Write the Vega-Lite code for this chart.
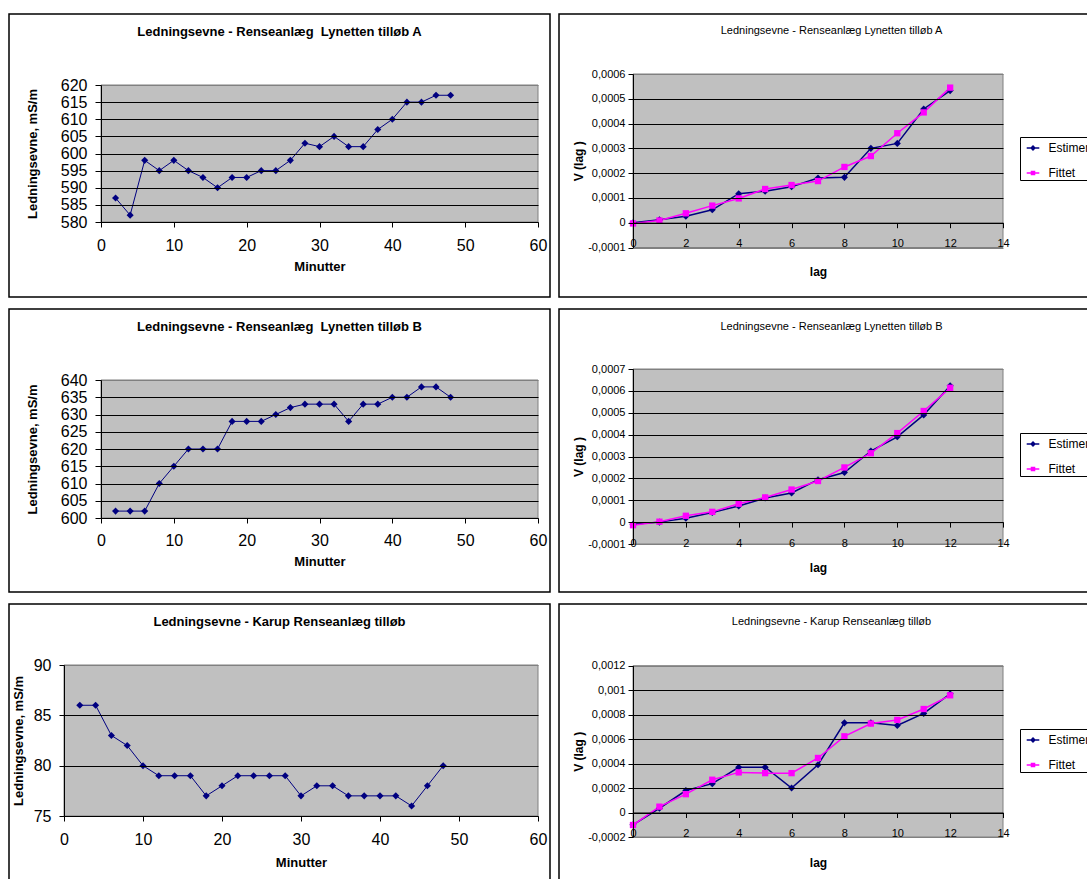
{
  "$schema": "https://vega.github.io/schema/vega-lite/v6.json",
  "padding": {"left": 8, "top": 13, "right": 0, "bottom": 0},
  "background": "white",
  "spacing": 10,
  "resolve": {"scale": {"color": "independent"}, "legend": {"color": "independent"}},
  "config": {
    "font": "Liberation Sans",
    "view": {"stroke": "#000000", "strokeWidth": 1.5},
    "axis": {"domainColor": "#000000", "tickColor": "#000000", "labelColor": "#000000", "titleColor": "#000000", "zindex": 1, "labelFlush": false, "labelOverlap": false, "domainWidth": 1, "tickWidth": 1, "gridWidth": 1},
    "title": {"anchor": "middle", "frame": "group", "color": "#000000"},
    "legend": {"orient": "none", "legendX": 461, "title": null, "strokeColor": "#000000", "fillColor": "#ffffff", "padding": 1,
      "labelFont": "Liberation Sans", "labelFontSize": 12, "labelColor": "#000000", "labelOffset": 5.5,
      "symbolType": "M-0.7,0H0.7", "symbolSize": 324, "symbolStrokeWidth": 1.5, "symbolOffset": 2, "rowPadding": 9}
  },
  "datasets": {
    "tillobA": [
      {"minut": 2, "ledningsevne": 587}, {"minut": 4, "ledningsevne": 582}, {"minut": 6, "ledningsevne": 598}, {"minut": 8, "ledningsevne": 595},
      {"minut": 10, "ledningsevne": 598}, {"minut": 12, "ledningsevne": 595}, {"minut": 14, "ledningsevne": 593}, {"minut": 16, "ledningsevne": 590},
      {"minut": 18, "ledningsevne": 593}, {"minut": 20, "ledningsevne": 593}, {"minut": 22, "ledningsevne": 595}, {"minut": 24, "ledningsevne": 595},
      {"minut": 26, "ledningsevne": 598}, {"minut": 28, "ledningsevne": 603}, {"minut": 30, "ledningsevne": 602}, {"minut": 32, "ledningsevne": 605},
      {"minut": 34, "ledningsevne": 602}, {"minut": 36, "ledningsevne": 602}, {"minut": 38, "ledningsevne": 607}, {"minut": 40, "ledningsevne": 610},
      {"minut": 42, "ledningsevne": 615}, {"minut": 44, "ledningsevne": 615}, {"minut": 46, "ledningsevne": 617}, {"minut": 48, "ledningsevne": 617}
    ],
    "tillobB": [
      {"minut": 2, "ledningsevne": 602}, {"minut": 4, "ledningsevne": 602}, {"minut": 6, "ledningsevne": 602}, {"minut": 8, "ledningsevne": 610},
      {"minut": 10, "ledningsevne": 615}, {"minut": 12, "ledningsevne": 620}, {"minut": 14, "ledningsevne": 620}, {"minut": 16, "ledningsevne": 620},
      {"minut": 18, "ledningsevne": 628}, {"minut": 20, "ledningsevne": 628}, {"minut": 22, "ledningsevne": 628}, {"minut": 24, "ledningsevne": 630},
      {"minut": 26, "ledningsevne": 632}, {"minut": 28, "ledningsevne": 633}, {"minut": 30, "ledningsevne": 633}, {"minut": 32, "ledningsevne": 633},
      {"minut": 34, "ledningsevne": 628}, {"minut": 36, "ledningsevne": 633}, {"minut": 38, "ledningsevne": 633}, {"minut": 40, "ledningsevne": 635},
      {"minut": 42, "ledningsevne": 635}, {"minut": 44, "ledningsevne": 638}, {"minut": 46, "ledningsevne": 638}, {"minut": 48, "ledningsevne": 635}
    ],
    "karup": [
      {"minut": 2, "ledningsevne": 86}, {"minut": 4, "ledningsevne": 86}, {"minut": 6, "ledningsevne": 83}, {"minut": 8, "ledningsevne": 82},
      {"minut": 10, "ledningsevne": 80}, {"minut": 12, "ledningsevne": 79}, {"minut": 14, "ledningsevne": 79}, {"minut": 16, "ledningsevne": 79},
      {"minut": 18, "ledningsevne": 77}, {"minut": 20, "ledningsevne": 78}, {"minut": 22, "ledningsevne": 79}, {"minut": 24, "ledningsevne": 79},
      {"minut": 26, "ledningsevne": 79}, {"minut": 28, "ledningsevne": 79}, {"minut": 30, "ledningsevne": 77}, {"minut": 32, "ledningsevne": 78},
      {"minut": 34, "ledningsevne": 78}, {"minut": 36, "ledningsevne": 77}, {"minut": 38, "ledningsevne": 77}, {"minut": 40, "ledningsevne": 77},
      {"minut": 42, "ledningsevne": 77}, {"minut": 44, "ledningsevne": 76}, {"minut": 46, "ledningsevne": 78}, {"minut": 48, "ledningsevne": 80}
    ],
    "variogramA": [
      {"lag": 0, "serie": "Estimeret", "V": 0}, {"lag": 1, "serie": "Estimeret", "V": 0.000012}, {"lag": 2, "serie": "Estimeret", "V": 0.000026},
      {"lag": 3, "serie": "Estimeret", "V": 0.000052}, {"lag": 4, "serie": "Estimeret", "V": 0.000117}, {"lag": 5, "serie": "Estimeret", "V": 0.000127},
      {"lag": 6, "serie": "Estimeret", "V": 0.000145}, {"lag": 7, "serie": "Estimeret", "V": 0.00018}, {"lag": 8, "serie": "Estimeret", "V": 0.000183},
      {"lag": 9, "serie": "Estimeret", "V": 0.0003}, {"lag": 10, "serie": "Estimeret", "V": 0.00032}, {"lag": 11, "serie": "Estimeret", "V": 0.000459},
      {"lag": 12, "serie": "Estimeret", "V": 0.000533},
      {"lag": 0, "serie": "Fittet", "V": -0.000003}, {"lag": 1, "serie": "Fittet", "V": 0.000009}, {"lag": 2, "serie": "Fittet", "V": 0.000038},
      {"lag": 3, "serie": "Fittet", "V": 0.000069}, {"lag": 4, "serie": "Fittet", "V": 0.000098}, {"lag": 5, "serie": "Fittet", "V": 0.000136},
      {"lag": 6, "serie": "Fittet", "V": 0.000152}, {"lag": 7, "serie": "Fittet", "V": 0.000168}, {"lag": 8, "serie": "Fittet", "V": 0.000225},
      {"lag": 9, "serie": "Fittet", "V": 0.000269}, {"lag": 10, "serie": "Fittet", "V": 0.000361}, {"lag": 11, "serie": "Fittet", "V": 0.000445},
      {"lag": 12, "serie": "Fittet", "V": 0.000545}
    ],
    "variogramB": [
      {"lag": 0, "serie": "Estimeret", "V": -0.00001}, {"lag": 1, "serie": "Estimeret", "V": 0}, {"lag": 2, "serie": "Estimeret", "V": 0.000018},
      {"lag": 3, "serie": "Estimeret", "V": 0.000044}, {"lag": 4, "serie": "Estimeret", "V": 0.000074}, {"lag": 5, "serie": "Estimeret", "V": 0.00011},
      {"lag": 6, "serie": "Estimeret", "V": 0.000133}, {"lag": 7, "serie": "Estimeret", "V": 0.000194}, {"lag": 8, "serie": "Estimeret", "V": 0.000227},
      {"lag": 9, "serie": "Estimeret", "V": 0.000325}, {"lag": 10, "serie": "Estimeret", "V": 0.00039}, {"lag": 11, "serie": "Estimeret", "V": 0.00049},
      {"lag": 12, "serie": "Estimeret", "V": 0.000623},
      {"lag": 0, "serie": "Fittet", "V": -0.000014}, {"lag": 1, "serie": "Fittet", "V": 0.000002}, {"lag": 2, "serie": "Fittet", "V": 0.000029},
      {"lag": 3, "serie": "Fittet", "V": 0.000047}, {"lag": 4, "serie": "Fittet", "V": 0.000084}, {"lag": 5, "serie": "Fittet", "V": 0.000113},
      {"lag": 6, "serie": "Fittet", "V": 0.000149}, {"lag": 7, "serie": "Fittet", "V": 0.000188}, {"lag": 8, "serie": "Fittet", "V": 0.00025},
      {"lag": 9, "serie": "Fittet", "V": 0.000315}, {"lag": 10, "serie": "Fittet", "V": 0.000407}, {"lag": 11, "serie": "Fittet", "V": 0.000508},
      {"lag": 12, "serie": "Fittet", "V": 0.000614}
    ],
    "variogramKarup": [
      {"lag": 0, "serie": "Estimeret", "V": -0.0001}, {"lag": 1, "serie": "Estimeret", "V": 0.000035}, {"lag": 2, "serie": "Estimeret", "V": 0.00018},
      {"lag": 3, "serie": "Estimeret", "V": 0.000236}, {"lag": 4, "serie": "Estimeret", "V": 0.00037}, {"lag": 5, "serie": "Estimeret", "V": 0.00037},
      {"lag": 6, "serie": "Estimeret", "V": 0.0002}, {"lag": 7, "serie": "Estimeret", "V": 0.00039}, {"lag": 8, "serie": "Estimeret", "V": 0.000733},
      {"lag": 9, "serie": "Estimeret", "V": 0.000733}, {"lag": 10, "serie": "Estimeret", "V": 0.000711}, {"lag": 11, "serie": "Estimeret", "V": 0.00081},
      {"lag": 12, "serie": "Estimeret", "V": 0.00097},
      {"lag": 0, "serie": "Fittet", "V": -0.000102}, {"lag": 1, "serie": "Fittet", "V": 0.000048}, {"lag": 2, "serie": "Fittet", "V": 0.00015},
      {"lag": 3, "serie": "Fittet", "V": 0.000268}, {"lag": 4, "serie": "Fittet", "V": 0.000328}, {"lag": 5, "serie": "Fittet", "V": 0.000322},
      {"lag": 6, "serie": "Fittet", "V": 0.000322}, {"lag": 7, "serie": "Fittet", "V": 0.000446}, {"lag": 8, "serie": "Fittet", "V": 0.000623},
      {"lag": 9, "serie": "Fittet", "V": 0.000727}, {"lag": 10, "serie": "Fittet", "V": 0.000757}, {"lag": 11, "serie": "Fittet", "V": 0.000846},
      {"lag": 12, "serie": "Fittet", "V": 0.000958}
    ]
  },
  "vconcat": [
    {
      "bounds": "flush",
      "spacing": 9,
      "resolve": {"scale": {"color": "independent"}, "legend": {"color": "independent"}},
      "hconcat": [
        {
          "width": 541, "height": 283,
          "title": {"text": "Ledningsevne - Renseanlæg\u00a0 Lynetten tilløb A", "fontSize": 13, "fontWeight": "bold", "offset": -25},
          "layer": [
            {
              "data": {"values": [{}]},
              "mark": {"type": "rect", "fill": "#c0c0c0", "stroke": "#808080", "strokeWidth": 1},
              "encoding": {
                "x": {"datum": 0, "type": "quantitative",
                  "scale": {"domain": [0, 60], "range": [92, 529], "nice": false, "zero": false},
                  "axis": {"orient": "bottom", "offset": -75, "zindex": 1, "tickCount": 20, "format": "d", "labelOverlap": false, "labelFlush": false, "values": [0, 10, 20, 30, 40, 50, 60], "tickSize": 5, "labelFontSize": 16, "labelPadding": 10,
                    "title": "Minutter", "titleFontSize": 13, "titleFontWeight": "bold", "titlePadding": 7, "grid": false}},
                "x2": {"datum": 60},
                "y": {"datum": 580, "type": "quantitative",
                  "scale": {"domain": [580, 620], "range": [208, 71], "nice": false, "zero": false},
                  "axis": {"orient": "left", "offset": -92, "zindex": 1, "tickCount": 20, "format": "d", "labelOverlap": false, "values": [580, 585, 590, 595, 600, 605, 610, 615, 620], "tickSize": 6, "labelPadding": 8, "labelFontSize": 16,
                    "title": "Ledningsevne, mS/m", "titleFontSize": 13, "titleFontWeight": "bold", "titlePadding": 21, "grid": true,
                    "gridColor": {"condition": {"test": "datum.value === 620", "value": "#808080"}, "value": "#000000"}}},
                "y2": {"datum": 620}
              }
            },
            {
              "data": {"name": "tillobA"},
              "mark": {"type": "line", "color": "#000080", "strokeWidth": 1},
              "encoding": {"x": {"field": "minut", "type": "quantitative"}, "y": {"field": "ledningsevne", "type": "quantitative"}}
            },
            {
              "data": {"name": "tillobA"},
              "mark": {"type": "point", "shape": "diamond", "filled": true, "color": "#000080", "size": 50, "opacity": 1},
              "encoding": {"x": {"field": "minut", "type": "quantitative"}, "y": {"field": "ledningsevne", "type": "quantitative"}}
            }
          ]
        },
        {
          "width": 545, "height": 283,
          "title": {"text": "Ledningsevne - Renseanlæg Lynetten tilløb A", "fontSize": 11, "fontWeight": "normal", "offset": -22},
          "layer": [
            {
              "data": {"values": [{}]},
              "mark": {"type": "rect", "fill": "#c0c0c0", "stroke": "#808080", "strokeWidth": 1},
              "encoding": {
                "x": {"datum": 0, "type": "quantitative",
                  "scale": {"domain": [0, 14], "range": [74, 444], "nice": false, "zero": false},
                  "axis": {"orient": "bottom", "offset": -74.3, "zindex": 1, "tickCount": 20, "format": "d", "labelOverlap": false, "labelFlush": false, "values": [0, 2, 4, 6, 8, 10, 12, 14], "tickSize": 5, "labelFontSize": 11, "labelPadding": 10,
                    "title": "lag", "titleFontSize": 12, "titleFontWeight": "bold", "titlePadding": 18, "grid": false}},
                "x2": {"datum": 14},
                "y": {"datum": -0.0001, "type": "quantitative",
                  "scale": {"domain": [-0.0001, 0.0006], "range": [233.5, 60], "nice": false, "zero": false},
                  "axis": {"orient": "left", "offset": -74, "zindex": 1, "tickCount": 20, "labelOverlap": false, "values": [-0.0001, 0, 0.0001, 0.0002, 0.0003, 0.0004, 0.0005, 0.0006], "tickSize": 5, "labelPadding": 3,
                    "labelFontSize": 11, "labelExpr": "replace(toString(datum.value), '.', ',')",
                    "title": "V (lag )", "titleFontSize": 12, "titleFontWeight": "bold", "titlePadding": 2, "grid": true,
                    "gridColor": {"condition": {"test": "datum.value === 0.0006 || datum.value === -0.0001", "value": "#808080"}, "value": "#000000"}}},
                "y2": {"datum": 0.0006}
              }
            },
            {
              "data": {"name": "variogramA"},
              "mark": {"type": "line", "strokeWidth": 1.5},
              "encoding": {
                "x": {"field": "lag", "type": "quantitative"},
                "y": {"field": "V", "type": "quantitative"},
                "color": {"field": "serie", "type": "nominal",
                  "scale": {"domain": ["Estimeret", "Fittet"], "range": ["#000080", "#ff00ff"]},
                  "legend": {"legendY": 123,
                    "encode": {"symbols": {"update": {
                      "shape": {"signal": "datum.value === 'Fittet' ? 'M-0.7,0H0.7M-0.17,-0.17H0.17V0.17H-0.17Z' : 'M-0.7,0H0.7M0,-0.21L0.21,0L0,0.21L-0.21,0Z'"},
                      "fill": {"signal": "datum.value === 'Fittet' ? '#ff00ff' : '#000080'"},
                      "stroke": {"signal": "datum.value === 'Fittet' ? '#ff00ff' : '#000080'"},
                      "fillOpacity": {"value": 1}, "strokeOpacity": {"value": 1}, "opacity": {"value": 1}}}}}}
              }
            },
            {
              "data": {"name": "variogramA"},
              "transform": [{"filter": "datum.serie === 'Estimeret'"}],
              "mark": {"type": "point", "shape": "diamond", "filled": true, "color": "#000080", "size": 50, "opacity": 1},
              "encoding": {"x": {"field": "lag", "type": "quantitative"}, "y": {"field": "V", "type": "quantitative"}}
            },
            {
              "data": {"name": "variogramA"},
              "transform": [{"filter": "datum.serie === 'Fittet'"}],
              "mark": {"type": "point", "shape": "square", "filled": true, "color": "#ff00ff", "size": 40, "opacity": 1},
              "encoding": {"x": {"field": "lag", "type": "quantitative"}, "y": {"field": "V", "type": "quantitative"}}
            }
          ]
        }
      ]
    },
    {
      "bounds": "flush",
      "spacing": 9,
      "resolve": {"scale": {"color": "independent"}, "legend": {"color": "independent"}},
      "hconcat": [
        {
          "width": 541, "height": 283,
          "title": {"text": "Ledningsevne - Renseanlæg\u00a0 Lynetten tilløb B", "fontSize": 13, "fontWeight": "bold", "offset": -25},
          "layer": [
            {
              "data": {"values": [{}]},
              "mark": {"type": "rect", "fill": "#c0c0c0", "stroke": "#808080", "strokeWidth": 1},
              "encoding": {
                "x": {"datum": 0, "type": "quantitative",
                  "scale": {"domain": [0, 60], "range": [92, 529], "nice": false, "zero": false},
                  "axis": {"orient": "bottom", "offset": -74, "zindex": 1, "tickCount": 20, "format": "d", "labelOverlap": false, "labelFlush": false, "values": [0, 10, 20, 30, 40, 50, 60], "tickSize": 5, "labelFontSize": 16, "labelPadding": 9,
                    "title": "Minutter", "titleFontSize": 13, "titleFontWeight": "bold", "titlePadding": 7, "grid": false}},
                "x2": {"datum": 60},
                "y": {"datum": 600, "type": "quantitative",
                  "scale": {"domain": [600, 640], "range": [209, 71], "nice": false, "zero": false},
                  "axis": {"orient": "left", "offset": -92, "zindex": 1, "tickCount": 20, "format": "d", "labelOverlap": false, "values": [600, 605, 610, 615, 620, 625, 630, 635, 640], "tickSize": 6, "labelPadding": 8, "labelFontSize": 16,
                    "title": "Ledningsevne, mS/m", "titleFontSize": 13, "titleFontWeight": "bold", "titlePadding": 21, "grid": true,
                    "gridColor": {"condition": {"test": "datum.value === 640", "value": "#808080"}, "value": "#000000"}}},
                "y2": {"datum": 640}
              }
            },
            {
              "data": {"name": "tillobB"},
              "mark": {"type": "line", "color": "#000080", "strokeWidth": 1},
              "encoding": {"x": {"field": "minut", "type": "quantitative"}, "y": {"field": "ledningsevne", "type": "quantitative"}}
            },
            {
              "data": {"name": "tillobB"},
              "mark": {"type": "point", "shape": "diamond", "filled": true, "color": "#000080", "size": 50, "opacity": 1},
              "encoding": {"x": {"field": "minut", "type": "quantitative"}, "y": {"field": "ledningsevne", "type": "quantitative"}}
            }
          ]
        },
        {
          "width": 545, "height": 283,
          "title": {"text": "Ledningsevne - Renseanlæg Lynetten tilløb B", "fontSize": 11, "fontWeight": "normal", "offset": -23},
          "layer": [
            {
              "data": {"values": [{}]},
              "mark": {"type": "rect", "fill": "#c0c0c0", "stroke": "#808080", "strokeWidth": 1},
              "encoding": {
                "x": {"datum": 0, "type": "quantitative",
                  "scale": {"domain": [0, 14], "range": [74, 444], "nice": false, "zero": false},
                  "axis": {"orient": "bottom", "offset": -69.9, "zindex": 1, "tickCount": 20, "format": "d", "labelOverlap": false, "labelFlush": false, "values": [0, 2, 4, 6, 8, 10, 12, 14], "tickSize": 5, "labelFontSize": 11, "labelPadding": 10,
                    "title": "lag", "titleFontSize": 12, "titleFontWeight": "bold", "titlePadding": 14, "grid": false}},
                "x2": {"datum": 14},
                "y": {"datum": -0.0001, "type": "quantitative",
                  "scale": {"domain": [-0.0001, 0.0007], "range": [235, 60], "nice": false, "zero": false},
                  "axis": {"orient": "left", "offset": -74, "zindex": 1, "tickCount": 20, "labelOverlap": false, "values": [-0.0001, 0, 0.0001, 0.0002, 0.0003, 0.0004, 0.0005, 0.0006, 0.0007], "tickSize": 5, "labelPadding": 3,
                    "labelFontSize": 11, "labelExpr": "replace(toString(datum.value), '.', ',')",
                    "title": "V (lag )", "titleFontSize": 12, "titleFontWeight": "bold", "titlePadding": 2, "grid": true,
                    "gridColor": {"condition": {"test": "datum.value === 0.0007 || datum.value === -0.0001", "value": "#808080"}, "value": "#000000"}}},
                "y2": {"datum": 0.0007}
              }
            },
            {
              "data": {"name": "variogramB"},
              "mark": {"type": "line", "strokeWidth": 1.5},
              "encoding": {
                "x": {"field": "lag", "type": "quantitative"},
                "y": {"field": "V", "type": "quantitative"},
                "color": {"field": "serie", "type": "nominal",
                  "scale": {"domain": ["Estimeret", "Fittet"], "range": ["#000080", "#ff00ff"]},
                  "legend": {"legendY": 124,
                    "encode": {"symbols": {"update": {
                      "shape": {"signal": "datum.value === 'Fittet' ? 'M-0.7,0H0.7M-0.17,-0.17H0.17V0.17H-0.17Z' : 'M-0.7,0H0.7M0,-0.21L0.21,0L0,0.21L-0.21,0Z'"},
                      "fill": {"signal": "datum.value === 'Fittet' ? '#ff00ff' : '#000080'"},
                      "stroke": {"signal": "datum.value === 'Fittet' ? '#ff00ff' : '#000080'"},
                      "fillOpacity": {"value": 1}, "strokeOpacity": {"value": 1}, "opacity": {"value": 1}}}}}}
              }
            },
            {
              "data": {"name": "variogramB"},
              "transform": [{"filter": "datum.serie === 'Estimeret'"}],
              "mark": {"type": "point", "shape": "diamond", "filled": true, "color": "#000080", "size": 50, "opacity": 1},
              "encoding": {"x": {"field": "lag", "type": "quantitative"}, "y": {"field": "V", "type": "quantitative"}}
            },
            {
              "data": {"name": "variogramB"},
              "transform": [{"filter": "datum.serie === 'Fittet'"}],
              "mark": {"type": "point", "shape": "square", "filled": true, "color": "#ff00ff", "size": 40, "opacity": 1},
              "encoding": {"x": {"field": "lag", "type": "quantitative"}, "y": {"field": "V", "type": "quantitative"}}
            }
          ]
        }
      ]
    },
    {
      "bounds": "flush",
      "spacing": 9,
      "resolve": {"scale": {"color": "independent"}, "legend": {"color": "independent"}},
      "hconcat": [
        {
          "width": 541, "height": 283,
          "title": {"text": "Ledningsevne - Karup Renseanlæg tilløb", "fontSize": 13, "fontWeight": "bold", "offset": -25},
          "layer": [
            {
              "data": {"values": [{}]},
              "mark": {"type": "rect", "fill": "#c0c0c0", "stroke": "#808080", "strokeWidth": 1},
              "encoding": {
                "x": {"datum": 0, "type": "quantitative",
                  "scale": {"domain": [0, 60], "range": [55, 529], "nice": false, "zero": false},
                  "axis": {"orient": "bottom", "offset": -71, "zindex": 1, "tickCount": 20, "format": "d", "labelOverlap": false, "labelFlush": false, "values": [0, 10, 20, 30, 40, 50, 60], "tickSize": 5, "labelFontSize": 16, "labelPadding": 10,
                    "title": "Minutter", "titleFontSize": 13, "titleFontWeight": "bold", "titlePadding": 9, "grid": false}},
                "x2": {"datum": 60},
                "y": {"datum": 75, "type": "quantitative",
                  "scale": {"domain": [75, 90], "range": [212, 61], "nice": false, "zero": false},
                  "axis": {"orient": "left", "offset": -55, "zindex": 1, "tickCount": 20, "format": "d", "labelOverlap": false, "values": [75, 80, 85, 90], "tickSize": 5, "labelPadding": 8, "labelFontSize": 16,
                    "title": "Ledningsevne, mS/m", "titleFontSize": 13, "titleFontWeight": "bold", "titlePadding": 8, "grid": true,
                    "gridColor": {"condition": {"test": "datum.value === 90", "value": "#808080"}, "value": "#000000"}}},
                "y2": {"datum": 90}
              }
            },
            {
              "data": {"name": "karup"},
              "mark": {"type": "line", "color": "#000080", "strokeWidth": 1},
              "encoding": {"x": {"field": "minut", "type": "quantitative"}, "y": {"field": "ledningsevne", "type": "quantitative"}}
            },
            {
              "data": {"name": "karup"},
              "mark": {"type": "point", "shape": "diamond", "filled": true, "color": "#000080", "size": 50, "opacity": 1},
              "encoding": {"x": {"field": "minut", "type": "quantitative"}, "y": {"field": "ledningsevne", "type": "quantitative"}}
            }
          ]
        },
        {
          "width": 545, "height": 283,
          "title": {"text": "Ledningsevne - Karup Renseanlæg tilløb", "fontSize": 11, "fontWeight": "normal", "offset": -23},
          "layer": [
            {
              "data": {"values": [{}]},
              "mark": {"type": "rect", "fill": "#c0c0c0", "stroke": "#808080", "strokeWidth": 1},
              "encoding": {
                "x": {"datum": 0, "type": "quantitative",
                  "scale": {"domain": [0, 14], "range": [74, 444], "nice": false, "zero": false},
                  "axis": {"orient": "bottom", "offset": -74.5, "zindex": 1, "tickCount": 20, "format": "d", "labelOverlap": false, "labelFlush": false, "values": [0, 2, 4, 6, 8, 10, 12, 14], "tickSize": 5, "labelFontSize": 11, "labelPadding": 10,
                    "title": "lag", "titleFontSize": 12, "titleFontWeight": "bold", "titlePadding": 19, "grid": false}},
                "x2": {"datum": 14},
                "y": {"datum": -0.0002, "type": "quantitative",
                  "scale": {"domain": [-0.0002, 0.0012], "range": [233, 61.7], "nice": false, "zero": false},
                  "axis": {"orient": "left", "offset": -74, "zindex": 1, "tickCount": 20, "labelOverlap": false, "values": [-0.0002, 0, 0.0002, 0.0004, 0.0006, 0.0008, 0.001, 0.0012], "tickSize": 5, "labelPadding": 3,
                    "labelFontSize": 11, "labelExpr": "replace(toString(datum.value), '.', ',')",
                    "title": "V (lag )", "titleFontSize": 12, "titleFontWeight": "bold", "titlePadding": 2, "grid": true,
                    "gridColor": {"condition": {"test": "datum.value === 0.0012 || datum.value === -0.0002", "value": "#808080"}, "value": "#000000"}}},
                "y2": {"datum": 0.0012}
              }
            },
            {
              "data": {"name": "variogramKarup"},
              "mark": {"type": "line", "strokeWidth": 1.5},
              "encoding": {
                "x": {"field": "lag", "type": "quantitative"},
                "y": {"field": "V", "type": "quantitative"},
                "color": {"field": "serie", "type": "nominal",
                  "scale": {"domain": ["Estimeret", "Fittet"], "range": ["#000080", "#ff00ff"]},
                  "legend": {"legendY": 125,
                    "encode": {"symbols": {"update": {
                      "shape": {"signal": "datum.value === 'Fittet' ? 'M-0.7,0H0.7M-0.17,-0.17H0.17V0.17H-0.17Z' : 'M-0.7,0H0.7M0,-0.21L0.21,0L0,0.21L-0.21,0Z'"},
                      "fill": {"signal": "datum.value === 'Fittet' ? '#ff00ff' : '#000080'"},
                      "stroke": {"signal": "datum.value === 'Fittet' ? '#ff00ff' : '#000080'"},
                      "fillOpacity": {"value": 1}, "strokeOpacity": {"value": 1}, "opacity": {"value": 1}}}}}}
              }
            },
            {
              "data": {"name": "variogramKarup"},
              "transform": [{"filter": "datum.serie === 'Estimeret'"}],
              "mark": {"type": "point", "shape": "diamond", "filled": true, "color": "#000080", "size": 50, "opacity": 1},
              "encoding": {"x": {"field": "lag", "type": "quantitative"}, "y": {"field": "V", "type": "quantitative"}}
            },
            {
              "data": {"name": "variogramKarup"},
              "transform": [{"filter": "datum.serie === 'Fittet'"}],
              "mark": {"type": "point", "shape": "square", "filled": true, "color": "#ff00ff", "size": 40, "opacity": 1},
              "encoding": {"x": {"field": "lag", "type": "quantitative"}, "y": {"field": "V", "type": "quantitative"}}
            }
          ]
        }
      ]
    }
  ]
}
